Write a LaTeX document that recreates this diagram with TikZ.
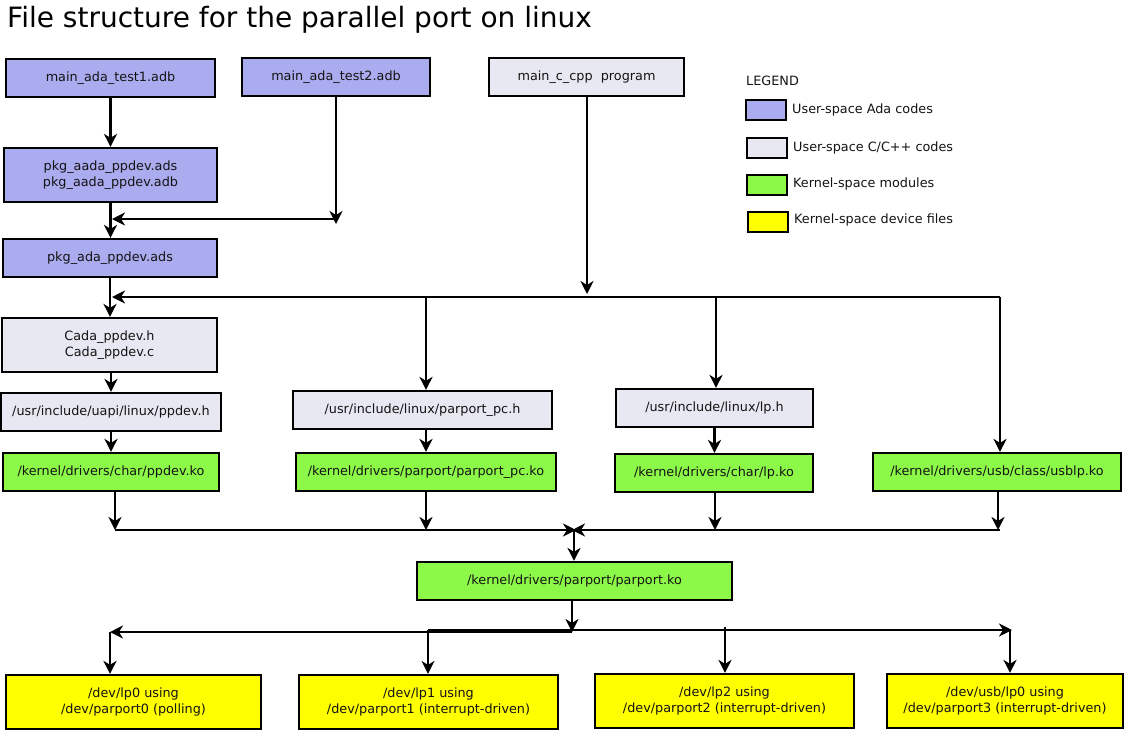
\documentclass[tikz,border=0pt]{standalone}
\usepackage{fontspec}
\setmainfont{DejaVu Sans}
\usetikzlibrary{arrows.meta}
\definecolor{adablue}{RGB}{171,171,239}
\definecolor{cgray}{RGB}{232,232,242}
\definecolor{kgreen}{RGB}{140,248,72}
\definecolor{dyellow}{RGB}{255,255,0}
\definecolor{txt}{RGB}{20,20,20}
\tikzset{
  fbox/.style={draw=black, line width=2.2pt, inner sep=0pt, align=center, text=txt,
    font=\fontsize{12.8}{16}\selectfont},
  adab/.style={fbox, fill=adablue},
  cb/.style={fbox, fill=cgray},
  kb/.style={fbox, fill=kgreen},
  yb/.style={fbox, fill=dyellow},
  arr/.style={line width=2.2pt, -{Stealth[length=13pt,width=13pt,inset=4pt]}},
  legtxt/.style={anchor=west, text=txt, inner sep=0pt, font=\fontsize{12.8}{16}\selectfont},
}
\begin{document}
\begin{tikzpicture}[x=1pt,y=-1pt]
\useasboundingbox (0,0) rectangle (1126,732);
\fill[white] (0,0) rectangle (1126,732);

\node[anchor=base west, inner sep=0pt, font=\fontsize{28}{32}\selectfont] (title) at (7,27) {File structure for the parallel port on linux};

% top row
\node[adab, minimum width=209pt, minimum height=38pt] (t1) at (110.5,78) {main\_ada\_test1.adb};
\node[adab, minimum width=188pt, minimum height=38pt] (t2) at (336,77) {main\_ada\_test2.adb};
\node[cb, minimum width=195pt, minimum height=38pt] (cpp) at (586.5,77) {main\_c\_cpp\ \ program};

\node[adab, minimum width=213pt, minimum height=54pt] (aada) at (110.5,175) {pkg\_aada\_ppdev.ads\\pkg\_aada\_ppdev.adb};
\node[adab, minimum width=214pt, minimum height=38pt] (ada) at (110,258) {pkg\_ada\_ppdev.ads};
\node[cb, minimum width=215pt, minimum height=54pt] (cada) at (109.5,345) {Cada\_ppdev.h\\Cada\_ppdev.c};

\node[cb, minimum width=220pt, minimum height=38pt] (ppdevh) at (111,412) {/usr/include/uapi/linux/ppdev.h};
\node[cb, minimum width=259pt, minimum height=38pt] (ppch) at (422.5,410) {/usr/include/linux/parport\_pc.h};
\node[cb, minimum width=197pt, minimum height=38pt] (lph) at (714.5,408) {/usr/include/linux/lp.h};

\node[kb, minimum width=216pt, minimum height=38pt] (ppdevko) at (111,472) {/kernel/drivers/char/ppdev.ko};
\node[kb, minimum width=260pt, minimum height=38pt] (ppcko) at (426,472) {/kernel/drivers/parport/parport\_pc.ko};
\node[kb, minimum width=198pt, minimum height=38pt] (lpko) at (714,473) {/kernel/drivers/char/lp.ko};
\node[kb, minimum width=248pt, minimum height=38pt] (usbko) at (997,472) {/kernel/drivers/usb/class/usblp.ko};

\node[kb, minimum width=315pt, minimum height=38pt] (pko) at (574.5,581) {/kernel/drivers/parport/parport.ko};

\node[yb, minimum width=255pt, minimum height=54pt] (d0) at (133.5,702) {/dev/lp0 using\\/dev/parport0 (polling)};
\node[yb, minimum width=259pt, minimum height=54pt] (d1) at (428.5,702) {/dev/lp1 using\\/dev/parport1 (interrupt-driven)};
\node[yb, minimum width=259pt, minimum height=54pt] (d2) at (724.5,701) {/dev/lp2 using\\/dev/parport2 (interrupt-driven)};
\node[yb, minimum width=236pt, minimum height=54pt] (d3) at (1005,701) {/dev/usb/lp0 using\\/dev/parport3 (interrupt-driven)};

% legend
\node[legtxt] (leg) at (746,81) {LEGEND};
\node[adab, minimum width=40pt, minimum height=20pt] (lb1) at (766,110) {};
\node[cb, minimum width=40pt, minimum height=20pt] (lb2) at (767,148) {};
\node[kb, minimum width=40pt, minimum height=20pt] (lb3) at (767,185) {};
\node[yb, minimum width=40pt, minimum height=20pt] (lb4) at (768,222) {};
\node[legtxt] (lt1) at (792,110) {User-space Ada codes};
\node[legtxt] (lt2) at (793,148) {User-space C/C++ codes};
\node[legtxt] (lt3) at (793,184) {Kernel-space modules};
\node[legtxt] (lt4) at (794,220) {Kernel-space device files};

% junction coordinates
\coordinate (j1a) at (336,224);
\coordinate (j1) at (336,219);
\coordinate (j1e) at (112,219);
\coordinate (j2a) at (587,294);
\coordinate (j2r) at (1000,297);
\coordinate (j2l) at (112,297);
\coordinate (b1) at (426,297);
\coordinate (b2) at (716,297);
\coordinate (m1) at (115,530);
\coordinate (m2) at (426,530);
\coordinate (m3) at (715,530);
\coordinate (m4) at (998,530);
\coordinate (m4e) at (1000,530);
\coordinate (mx1) at (576,530);
\coordinate (mx2) at (572,530);
\coordinate (mc) at (574,530);
\coordinate (n0) at (572,632);
\coordinate (n0l) at (572,632);
\coordinate (nl) at (110,632);
\coordinate (nr0) at (428,630);
\coordinate (nr) at (1012,630);
\coordinate (q1) at (428,630);
\coordinate (q2) at (725,627);
\coordinate (q3) at (1010,630);

% Ada chain
\draw[arr] (t1.south) -- (aada.north);
\draw[arr] (t2.south) -- (j1a);
\draw[arr] (j1) -- (j1e);
\draw[arr] (aada.south) -- (aada.south |- ada.north);
\draw[arr] (ada.south) -- (ada.south |- cada.north);

% C program bus
\draw[arr] (cpp.south -| j2a) -- (j2a);
\draw[arr] (j2r) -- (j2l);
\draw[arr] (b1) -- (b1 |- ppch.north);
\draw[arr] (b2) -- (b2 |- lph.north);
\draw[arr] (j2r) -- (j2r |- usbko.north);

% headers to modules
\draw[arr] (cada.south -| ppdevh.north) -- (ppdevh.north);
\draw[arr] (ppdevh.south) -- (ppdevko.north);
\draw[arr] (b1 |- ppch.south) -- (b1 |- ppcko.north);
\draw[arr] (lph.south) -- (lph.south |- lpko.north);

% modules to parport bus
\draw[arr] (m1 |- ppdevko.south) -- (m1);
\draw[arr] (m2 |- ppcko.south) -- (m2);
\draw[arr] (m3 |- lpko.south) -- (m3);
\draw[arr] (m4 |- usbko.south) -- (m4);
\draw[arr] (m1) -- (mx1);
\draw[arr] (m4e) -- (mx2);
\draw[arr] (mc) -- (mc |- pko.north);

% parport to device files
\draw[arr] (n0 |- pko.south) -- (n0);
\draw[arr] (n0l) -- (nl);
\draw[arr] (nr0) -- (nr);
\draw[arr] (nl) -- (nl |- d0.north);
\draw[arr, line width=1.5pt] (q1) -- (q1 |- d1.north);
\draw[arr] (q2) -- (q2 |- d2.north);
\draw[arr] (q3) -- (q3 |- d3.north);
\end{tikzpicture}
\end{document}
